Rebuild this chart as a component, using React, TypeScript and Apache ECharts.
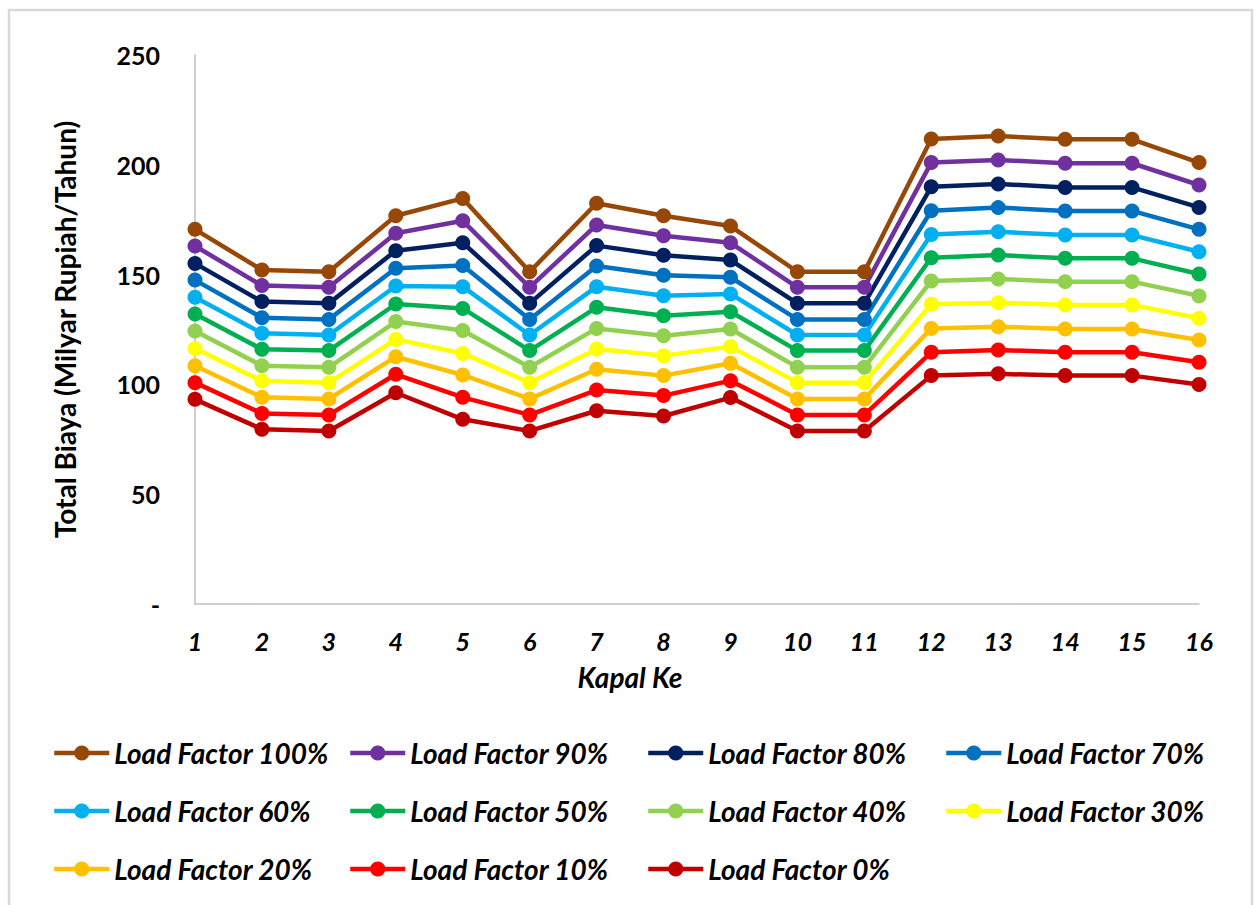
import React, { useEffect, useRef } from "react";
import * as echarts from "echarts";

const categories = ["1","2","3","4","5","6","7","8","9","10","11","12","13","14","15","16"];
const seriesNames = [
  "Load Factor 100%","Load Factor 90%","Load Factor 80%","Load Factor 70%",
  "Load Factor 60%","Load Factor 50%","Load Factor 40%","Load Factor 30%",
  "Load Factor 20%","Load Factor 10%","Load Factor 0%",
];
const lf100 = [170.6,152.1,151.3,176.8,184.7,151.3,182.5,176.8,172.1,151.3,151.3,211.7,213.1,211.6,211.6,201.0];
const lf90 = [163.0,145.0,144.2,168.8,174.5,144.2,172.6,167.7,164.5,144.2,144.2,201.0,202.2,200.7,200.7,190.8];
const lf80 = [155.1,137.7,136.9,160.9,164.5,136.9,163.2,158.8,156.6,136.9,136.9,190.0,191.3,189.7,189.7,180.6];
const lf70 = [147.5,130.4,129.6,152.9,154.1,129.6,153.9,149.7,148.8,129.6,129.6,179.1,180.5,179.0,179.0,170.6];
const lf60 = [139.7,123.3,122.5,144.8,144.5,122.5,144.5,140.4,141.2,122.5,122.5,168.3,169.5,168.0,168.0,160.4];
const lf50 = [132.1,116.0,115.4,136.6,134.6,115.4,135.1,131.3,133.1,115.4,115.4,157.7,158.9,157.4,157.4,150.3];
const lf40 = [124.3,108.5,107.8,128.6,124.5,107.8,125.5,122.2,125.2,107.8,107.8,147.1,148.0,146.8,146.8,140.3];
const lf30 = [116.4,101.5,100.8,120.5,114.1,100.8,116.1,113.1,117.2,100.8,100.8,136.5,137.2,136.2,136.2,130.1];
const lf20 = [108.5,94.1,93.4,112.6,104.3,93.4,106.9,104.0,109.6,93.4,93.4,125.5,126.3,125.2,125.2,120.2];
const lf10 = [100.8,86.8,86.1,104.6,94.1,86.1,97.4,94.9,101.7,86.1,86.1,114.6,115.7,114.6,114.6,110.1];
const lf0 = [93.2,79.6,78.8,96.2,84.1,78.8,88.0,85.6,94.0,78.8,78.8,104.0,104.8,104.0,104.0,100.0];
const seriesData = [lf100, lf90, lf80, lf70, lf60, lf50, lf40, lf30, lf20, lf10, lf0];
const colors = ["#974806","#7030A0","#002060","#0070C0","#00B0F0","#00B050","#92D050","#FFFF00","#FFC000","#FF0000","#C00000"];
const yTicks = [0, 50, 100, 150, 200, 250];

const FONT = "Lato, 'Open Sans', sans-serif";

export default function App() {
  const ref = useRef<HTMLDivElement>(null);
  useEffect(() => {
    if (!ref.current) return;
    const chart = echarts.init(ref.current, null, { renderer: "svg" });
    const legendColumns = [
      { left: 52, idx: [0, 4, 8] },
      { left: 348, idx: [1, 5, 9] },
      { left: 646, idx: [2, 6, 10] },
      { left: 944, idx: [3, 7] },
    ];
    chart.setOption({
      animation: false,
      backgroundColor: "#ffffff",
      textStyle: { fontFamily: FONT },
      grid: { left: 195, right: 1257 - 1199, top: 55, bottom: 905 - 604, containLabel: false },
      graphic: [
        {
          type: "rect",
          shape: { x: 9, y: 10, width: 1243, height: 1000 },
          style: { fill: "none", stroke: "#d9d9d9", lineWidth: 2.5 },
          silent: true,
        },
      ],
      legend: legendColumns.map((c) => ({
        orient: "vertical",
        left: c.left,
        top: 739,
        padding: 0,
        itemWidth: 55,
        itemHeight: 19,
        itemGap: 30,
        lineStyle: { width: 4.5 },
        data: c.idx.map((i) => seriesNames[i]),
        textStyle: { fontFamily: FONT, fontSize: 28, fontWeight: "bold", fontStyle: "italic", color: "#000" },
      })),
      xAxis: {
        type: "category",
        data: categories,
        boundaryGap: false,
        axisLine: { lineStyle: { color: "#bfbfbf", width: 1.5 } },
        axisTick: { show: false },
        axisLabel: { fontFamily: FONT, fontSize: 25, fontWeight: "bold", fontStyle: "italic", color: "#000", margin: 24 },
        name: "Kapal Ke",
        nameLocation: "middle",
        nameGap: 59,
        nameTextStyle: { fontFamily: FONT, fontSize: 28, fontWeight: "bold", fontStyle: "italic", color: "#000", padding: [0, 134, 0, 0] },
      },
      yAxis: {
        type: "value",
        min: yTicks[0],
        max: yTicks[yTicks.length - 1],
        interval: 50,
        splitLine: { show: false },
        axisLine: { show: true, lineStyle: { color: "#bfbfbf", width: 1.5 } },
        axisTick: { show: false },
        axisLabel: {
          fontFamily: FONT, fontSize: 25, fontWeight: "bold", color: "#000", margin: 35,
          formatter: (v: number) => (v === 0 ? "-" : String(v)),
        },
        name: "Total Biaya (Milyar Rupiah/Tahun)",
        nameLocation: "middle",
        nameGap: 116,
        nameTextStyle: { fontFamily: FONT, fontSize: 28, fontWeight: "bold", color: "#000" },
      },
      series: seriesData.map((d, i) => ({
        name: seriesNames[i],
        type: "line",
        data: d,
        symbol: "circle",
        symbolSize: 15,
        color: colors[i],
        lineStyle: { width: 4.5, color: colors[i] },
        itemStyle: { color: colors[i] },
      })),
    });
    return () => chart.dispose();
  }, []);
  return <div ref={ref} style={{ position: "absolute", left: 0, top: 0, width: 1257, height: 905 }} />;
}
